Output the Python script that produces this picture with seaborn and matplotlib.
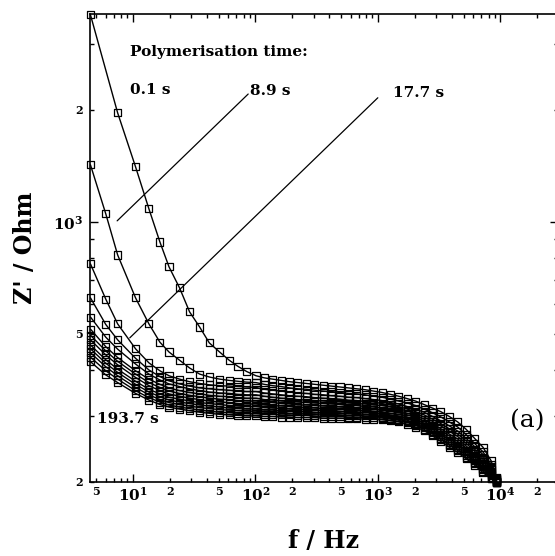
import numpy as np
import pandas as pd
import matplotlib
matplotlib.use("Agg")
import matplotlib.pyplot as plt
import seaborn as sns
from matplotlib.ticker import FixedLocator, FixedFormatter

# ---------------- data ----------------
freq_hz = [4.5, 6.0, 7.5, 10.5, 13.5, 16.6, 19.7, 24, 29, 35, 42, 51, 61, 72, 85,
           101, 118, 138, 162, 190, 222, 260, 305, 357, 418, 490, 574, 672, 787, 922,
           1080, 1265, 1480, 1735, 2030, 2380, 2790, 3265, 3825, 4480, 5250, 6150, 7200, 8400, 9300]

poly_times_s = [0.1, 8.9, 17.7, 26.5, 35.3, 52.9, 70.5, 88.1, 105.7, 123.3, 140.9, 167.3, 193.7]

z_t01 = [3600, None, 1963, 1406, 1084, 883, 757, 665, 573, 522, 473, 447, 425, 409, 396,
         386, 381, 378, 375, 372, 370, 368, 366, 364, 362, 360, 358, 356, 354, 351,
         348, 344, 340, 335, 330, 323, 316, 309, 300, 290, 277, 262, 248, 228, 205]
z_t02 = [1423, 1051, 815, 625, 532, 475, 447, 425, 405, 390, 383, 378, 375, 373, 371,
         370, 366, 363, 361, 358, 356, 355, 353, 351, 350, 348, 346, 345, 343, 340,
         338, 334, 330, 326, 321, 314, 307, 299, 290, 281, 268, 254, 241, 223, 204]
z_t03 = [771, 620, 532, 456, 418, 398, 386, 378, 372, 368, 365, 363, 362, 361, 360,
         359, 355, 353, 351, 349, 347, 346, 344, 343, 341, 340, 338, 337, 335, 333,
         331, 327, 324, 319, 314, 308, 300, 292, 283, 274, 262, 249, 237, 220, 203]
z_t04 = [625, 530, 482, 430, 400, 384, 374, 367, 362, 358, 356, 354, 353, 351, 350,
         350, 347, 345, 343, 341, 340, 339, 337, 336, 335, 334, 332, 331, 329, 328,
         325, 322, 319, 314, 309, 303, 295, 287, 278, 269, 258, 245, 233, 218, 203]
z_t05 = [555, 490, 455, 415, 390, 376, 367, 361, 356, 352, 349, 347, 346, 344, 343,
         343, 340, 338, 336, 335, 333, 332, 331, 330, 329, 328, 326, 325, 324, 322,
         321, 318, 315, 310, 305, 299, 291, 283, 274, 265, 254, 242, 230, 216, 202]
z_t06 = [515, 462, 432, 398, 378, 366, 358, 352, 348, 345, 342, 340, 339, 337, 336,
         336, 333, 332, 330, 329, 328, 327, 326, 325, 324, 323, 321, 321, 319, 318,
         316, 313, 311, 306, 301, 295, 287, 278, 269, 261, 250, 238, 227, 214, 201]
z_t07 = [496, 450, 422, 390, 370, 359, 351, 346, 342, 339, 336, 334, 333, 331, 330,
         330, 328, 327, 325, 324, 322, 322, 321, 320, 319, 318, 317, 316, 315, 314,
         312, 310, 307, 303, 298, 291, 283, 275, 266, 257, 247, 236, 224, 212, 201]
z_t08 = [482, 439, 413, 382, 363, 352, 345, 340, 336, 333, 330, 328, 327, 325, 324,
         324, 322, 321, 320, 319, 317, 317, 316, 315, 315, 314, 313, 312, 311, 310,
         309, 306, 304, 299, 294, 288, 280, 271, 262, 254, 243, 233, 222, 211, 201]
z_t09 = [467, 426, 402, 373, 355, 345, 338, 334, 330, 327, 325, 323, 321, 320, 319,
         319, 317, 316, 315, 314, 313, 313, 312, 311, 311, 310, 309, 309, 307, 307,
         305, 303, 301, 296, 291, 285, 277, 268, 259, 251, 241, 230, 220, 209, 200]
z_t10 = [456, 417, 394, 366, 349, 339, 332, 328, 325, 322, 320, 318, 316, 315, 314,
         314, 312, 312, 310, 310, 309, 309, 308, 307, 307, 307, 305, 305, 304, 303,
         302, 300, 298, 293, 288, 282, 274, 265, 256, 248, 238, 228, 217, 208, 200]
z_t11 = [445, 408, 386, 359, 343, 333, 327, 323, 320, 317, 315, 313, 312, 311, 310,
         310, 308, 308, 307, 306, 305, 305, 305, 304, 304, 303, 302, 302, 301, 301,
         299, 297, 295, 291, 286, 280, 271, 262, 253, 245, 236, 226, 216, 206, 200]
z_t12 = [433, 398, 378, 352, 337, 328, 322, 318, 315, 312, 310, 308, 307, 306, 305,
         305, 304, 304, 303, 303, 302, 302, 301, 300, 300, 300, 299, 299, 298, 298,
         297, 295, 293, 289, 284, 277, 269, 260, 251, 243, 233, 224, 214, 205, 199]
z_t13 = [421, 388, 370, 346, 332, 323, 318, 314, 311, 308, 306, 304, 303, 302, 301,
         301, 300, 300, 299, 299, 298, 298, 298, 297, 297, 297, 296, 296, 295, 295,
         294, 292, 290, 286, 281, 275, 266, 257, 248, 240, 231, 222, 212, 204, 199]

series = [z_t01, z_t02, z_t03, z_t04, z_t05, z_t06, z_t07, z_t08, z_t09,
          z_t10, z_t11, z_t12, z_t13]

x_major = [10, 100, 1000, 10000]
x_major_labels = [r"$\mathbf{10}^{\mathbf{1}}$", r"$\mathbf{10}^{\mathbf{2}}$",
                  r"$\mathbf{10}^{\mathbf{3}}$", r"$\mathbf{10}^{\mathbf{4}}$"]
x_minor = [5, 6, 7, 8, 9, 20, 30, 40, 50, 60, 70, 80, 90, 200, 300, 400, 500, 600, 700,
           800, 900, 2000, 3000, 4000, 5000, 6000, 7000, 8000, 9000, 20000]
x_minor_labels = ["5", "", "", "", "", "2", "", "", "5", "", "", "", "", "2", "", "", "5",
                  "", "", "", "", "2", "", "", "5", "", "", "", "", "2"]
y_major = [1000]
y_major_labels = [r"$\mathbf{10}^{\mathbf{3}}$"]
y_minor = [200, 300, 400, 500, 600, 700, 800, 900, 2000, 3000]
y_minor_labels = ["2", "", "", "5", "", "", "", "", "2", ""]

# ---------------- build long table ----------------
rows = []
for t, zs in zip(poly_times_s, series):
    for f, z in zip(freq_hz, zs):
        rows.append({"f": f, "Z": np.nan if z is None else z, "t": t})
df = pd.DataFrame(rows).dropna()

# ---------------- plot ----------------
sns.set_theme(style="ticks")
plt.rcParams["font.family"] = ["DejaVu Serif"]
plt.rcParams["mathtext.fontset"] = "dejavuserif"
for key in ["text.color", "axes.labelcolor", "xtick.color", "ytick.color",
            "axes.edgecolor", "xtick.labelcolor", "ytick.labelcolor"]:
    plt.rcParams[key] = "black"

fig = plt.figure(figsize=(5.55, 5.56), dpi=100)
ax = fig.add_axes([90 / 555, 74 / 556, 468 / 555, 468 / 556])
ax.set_xscale("log")
ax.set_yscale("log")

sns.lineplot(data=df, x="f", y="Z", units="t", estimator=None, sort=True,
             color="black", linewidth=1.0, ax=ax, legend=False)
sns.scatterplot(data=df, x="f", y="Z", marker="s", s=26, facecolor="none",
                edgecolor="black", linewidth=0.9, ax=ax, legend=False,
                clip_on=False, zorder=3)

ax.set_xlim(4.46, 2.95e4)
ax.set_ylim(200, 3620)

ax.xaxis.set_major_locator(FixedLocator(x_major))
ax.xaxis.set_major_formatter(FixedFormatter(x_major_labels))
ax.xaxis.set_minor_locator(FixedLocator(x_minor))
ax.xaxis.set_minor_formatter(FixedFormatter(x_minor_labels))
ax.yaxis.set_major_locator(FixedLocator(y_major))
ax.yaxis.set_major_formatter(FixedFormatter(y_major_labels))
ax.yaxis.set_minor_locator(FixedLocator(y_minor))
ax.yaxis.set_minor_formatter(FixedFormatter(y_minor_labels))

ax.tick_params(which="both", direction="in", top=True, right=True, color="black",
               labelcolor="black", width=1.0)
ax.tick_params(which="major", length=6, labelsize=11)
ax.tick_params(which="minor", length=3, labelsize=8)
ax.tick_params(axis="x", which="both", pad=3)
ax.tick_params(axis="y", which="both", pad=5)
for lab in ax.get_xticklabels(which="both") + ax.get_yticklabels(which="both"):
    lab.set_fontweight("bold")
for sp in ax.spines.values():
    sp.set_linewidth(1.2)
    sp.set_color("black")

ax.set_xlabel("f / Hz", fontsize=17, fontweight="bold", color="black")
ax.set_ylabel("Z' / Ohm", fontsize=17, fontweight="bold", color="black")
ax.xaxis.set_label_coords(0.5, -0.10)
ax.yaxis.set_label_coords(-0.113, 0.5)

# annotations
tkw = dict(transform=ax.transAxes, fontsize=11, fontweight="bold", va="center",
           ha="left", color="black")
ax.text(0.085, 0.919, "Polymerisation time:", **tkw)
ax.text(0.085, 0.838, "0.1 s", **tkw)
ax.text(0.342, 0.835, "8.9 s", **tkw)
ax.text(0.647, 0.831, "17.7 s", **tkw)
ax.text(0.015, 0.135, "193.7 s", **tkw)
ax.text(0.897, 0.130, "(a)", transform=ax.transAxes, fontsize=18, va="center",
        ha="left", color="black")
ax.plot([0.338, 0.058], [0.829, 0.558], transform=ax.transAxes, color="black", lw=0.9)
ax.plot([0.615, 0.085], [0.821, 0.308], transform=ax.transAxes, color="black", lw=0.9)

fig.savefig("out.png", dpi=100)
